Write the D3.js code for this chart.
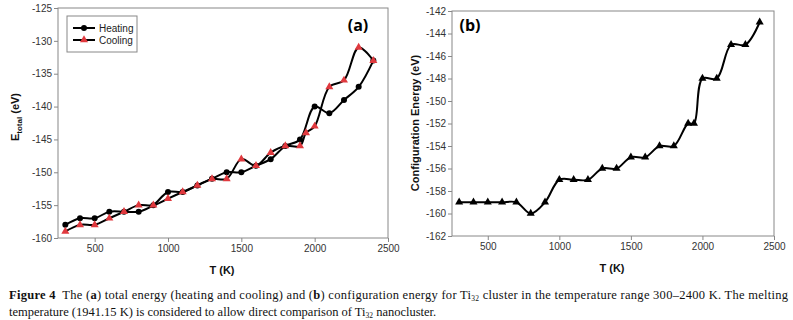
<!DOCTYPE html>
<html>
<head>
<meta charset="utf-8">
<script src="https://cdn.jsdelivr.net/npm/d3@7"></script>
<style>
  body { margin: 0; background: #fff; }
  svg { display: block; }
  .tick text { font-family: "Liberation Sans", Arial, sans-serif; font-size: 10px; fill: #333; }
  .axis path, .axis line { stroke: #888; }
</style>
</head>
<body>
<script>
// Panel (a): total energy, heating and cooling
const heatT = [300, 400, 500, 600, 700, 800, 900, 1000, 1100, 1200, 1300, 1400, 1500, 1600, 1700, 1800, 1900, 2000, 2100, 2200, 2300, 2400];
const heatE = [-158, -157, -157, -156, -156, -156, -155, -153, -153, -152, -151, -150, -150, -149, -148, -146, -145, -140, -141, -139, -137, -133];
const coolT = [300, 400, 500, 600, 700, 800, 900, 1000, 1100, 1200, 1300, 1400, 1500, 1600, 1700, 1800, 1900, 1941, 2000, 2100, 2200, 2300, 2400];
const coolE = [-159, -158, -158, -157, -156, -155, -155, -154, -153, -152, -151, -151, -148, -149, -147, -146, -146, -144, -143, -137, -136, -131, -133];

// Panel (b): configuration energy
const confT = [300, 400, 500, 600, 700, 800, 900, 1000, 1100, 1200, 1300, 1400, 1500, 1600, 1700, 1800, 1900, 1941, 2000, 2100, 2200, 2300, 2400];
const confE = [-159, -159, -159, -159, -159, -160, -159, -157, -157, -157, -156, -156, -155, -155, -154, -154, -152, -152, -148, -148, -145, -145, -143];

const xTicks = [500, 1000, 1500, 2000, 2500];
const yTicksA = [-160, -155, -150, -145, -140, -135, -130, -125];
const yTicksB = [-162, -160, -158, -156, -154, -152, -150, -148, -146, -144, -142];

const w = 793, h = 320;
const svg = d3.select("body").append("svg").attr("width", w).attr("height", h);
const sans = '"Liberation Sans", Arial, sans-serif';
const fmt = (d) => String(d);

function panel(x0, x1, y0, y1, yDomain, yTicks) {
  const xScale = d3.scaleLinear().domain([250, 2500]).range([x0, x1]);
  const yScale = d3.scaleLinear().domain(yDomain).range([y1, y0]);
  // frame
  svg.append("rect")
     .attr("x", x0).attr("y", y0)
     .attr("width", x1 - x0).attr("height", y1 - y0)
     .attr("fill", "none").attr("stroke", "#888");
  svg.append("g")
     .attr("class", "axis")
     .attr("transform", "translate(0," + y1 + ")")
     .call(d3.axisBottom(xScale).tickValues(xTicks).tickSize(4).tickPadding(3).tickSizeOuter(0).tickFormat(fmt));
  svg.append("g")
     .attr("class", "axis")
     .attr("transform", "translate(" + x0 + ",0)")
     .call(d3.axisLeft(yScale).tickValues(yTicks).tickSize(4).tickPadding(2).tickSizeOuter(0).tickFormat(fmt));
  svg.selectAll(".axis .domain").remove();
  return { xScale, yScale };
}

// ---- (a)
const a = panel(58, 388, 8, 238, [-160, -125], yTicksA);
const lineA = d3.line().x((d) => a.xScale(d[0])).y((d) => a.yScale(d[1])).curve(d3.curveCatmullRom);
const heat = heatT.map((t, i) => [t, heatE[i]]);
const cool = coolT.map((t, i) => [t, coolE[i]]);

svg.append("path").attr("d", lineA(heat)).attr("fill", "none").attr("stroke", "#000").attr("stroke-width", 2);
svg.append("path").attr("d", lineA(cool)).attr("fill", "none").attr("stroke", "#000").attr("stroke-width", 2);

svg.selectAll(".heatPt")
   .data(heat)
   .enter()
   .append("circle")
   .attr("cx", (d) => a.xScale(d[0]))
   .attr("cy", (d) => a.yScale(d[1]))
   .attr("r", 3)
   .attr("fill", "#000");

const tri = d3.symbol().type(d3.symbolTriangle).size(28);
svg.selectAll(".coolPt")
   .data(cool)
   .enter()
   .append("path")
   .attr("d", tri)
   .attr("transform", (d) => "translate(" + a.xScale(d[0]) + "," + a.yScale(d[1]) + ")")
   .attr("fill", "#e0393e");

// legend
const lg = svg.append("g");
lg.append("rect").attr("x", 67).attr("y", 16).attr("width", 70).attr("height", 36)
  .attr("fill", "#fff").attr("stroke", "#888");
lg.append("line").attr("x1", 73).attr("x2", 95).attr("y1", 28).attr("y2", 28).attr("stroke", "#000").attr("stroke-width", 2);
lg.append("circle").attr("cx", 84).attr("cy", 28).attr("r", 3).attr("fill", "#000");
lg.append("line").attr("x1", 73).attr("x2", 95).attr("y1", 40).attr("y2", 40).attr("stroke", "#000").attr("stroke-width", 2);
lg.append("path").attr("d", tri).attr("transform", "translate(84,40)").attr("fill", "#e0393e");
lg.append("text").attr("x", 99).attr("y", 31.5).text("Heating")
  .attr("font-family", sans).attr("font-size", 10).attr("fill", "#222");
lg.append("text").attr("x", 99).attr("y", 43.5).text("Cooling")
  .attr("font-family", sans).attr("font-size", 10).attr("fill", "#222");

svg.append("text").attr("x", 358).attr("y", 31).attr("text-anchor", "middle")
   .attr("font-family", '"Open Sans", sans-serif').attr("font-weight", "bold").attr("font-size", 16)
   .text("(a)");

const yLabA = svg.append("text")
   .attr("transform", "translate(19,117) rotate(-90)")
   .attr("text-anchor", "middle")
   .attr("font-family", sans).attr("font-weight", "bold").attr("font-size", 11).attr("fill", "#111");
yLabA.append("tspan").text("E");
yLabA.append("tspan").attr("font-size", 8).attr("dy", 3).text("total");
yLabA.append("tspan").attr("dy", -3).text(" (eV)");

svg.append("text").attr("x", 222).attr("y", 274).attr("text-anchor", "middle")
   .attr("font-family", sans).attr("font-weight", "bold").attr("font-size", 11).attr("fill", "#111")
   .text("T (K)");

// ---- (b)
const b = panel(452, 774, 11, 236, [-162, -142], yTicksB);
const lineB = d3.line().x((d) => b.xScale(d[0])).y((d) => b.yScale(d[1])).curve(d3.curveCatmullRom);
const conf = confT.map((t, i) => [t, confE[i]]);
svg.append("path").attr("d", lineB(conf)).attr("fill", "none").attr("stroke", "#000").attr("stroke-width", 2);
svg.selectAll(".confPt")
   .data(conf)
   .enter()
   .append("path")
   .attr("d", tri)
   .attr("transform", (d) => "translate(" + b.xScale(d[0]) + "," + b.yScale(d[1]) + ")")
   .attr("fill", "#000");

svg.append("text").attr("x", 470).attr("y", 31).attr("text-anchor", "middle")
   .attr("font-family", '"Open Sans", sans-serif').attr("font-weight", "bold").attr("font-size", 16)
   .text("(b)");

svg.append("text")
   .attr("transform", "translate(419,123) rotate(-90)")
   .attr("text-anchor", "middle")
   .attr("font-family", sans).attr("font-weight", "bold").attr("font-size", 11).attr("fill", "#111")
   .text("Configuration Energy (eV)");

svg.append("text").attr("x", 612).attr("y", 272).attr("text-anchor", "middle")
   .attr("font-family", sans).attr("font-weight", "bold").attr("font-size", 11).attr("fill", "#111")
   .text("T (K)");

// ---- caption
const serif = '"Liberation Serif", "DejaVu Serif", serif';
const c1 = svg.append("text").attr("x", 9).attr("y", 299)
   .attr("font-family", serif).attr("font-size", 12.5).attr("fill", "#111")
   .attr("textLength", 779).attr("lengthAdjust", "spacing");
c1.append("tspan").attr("font-weight", "bold").text("Figure 4");
c1.append("tspan").text("\u00a0 The (");
c1.append("tspan").attr("font-weight", "bold").text("a");
c1.append("tspan").text(") total energy (heating and cooling) and (");
c1.append("tspan").attr("font-weight", "bold").text("b");
c1.append("tspan").text(") configuration energy for Ti");
c1.append("tspan").attr("font-size", 7.5).attr("dy", 2).text("32");
c1.append("tspan").attr("dy", -2).text(" cluster in the temperature range 300\u20132400 K. The melting");

const c2 = svg.append("text").attr("x", 9).attr("y", 316)
   .attr("font-family", serif).attr("font-size", 12.5).attr("fill", "#111");
c2.append("tspan").text("temperature (1941.15 K) is considered to allow direct comparison of Ti");
c2.append("tspan").attr("font-size", 7.5).attr("dy", 2).text("32");
c2.append("tspan").attr("dy", -2).text(" nanocluster.");
</script>
</body>
</html>
